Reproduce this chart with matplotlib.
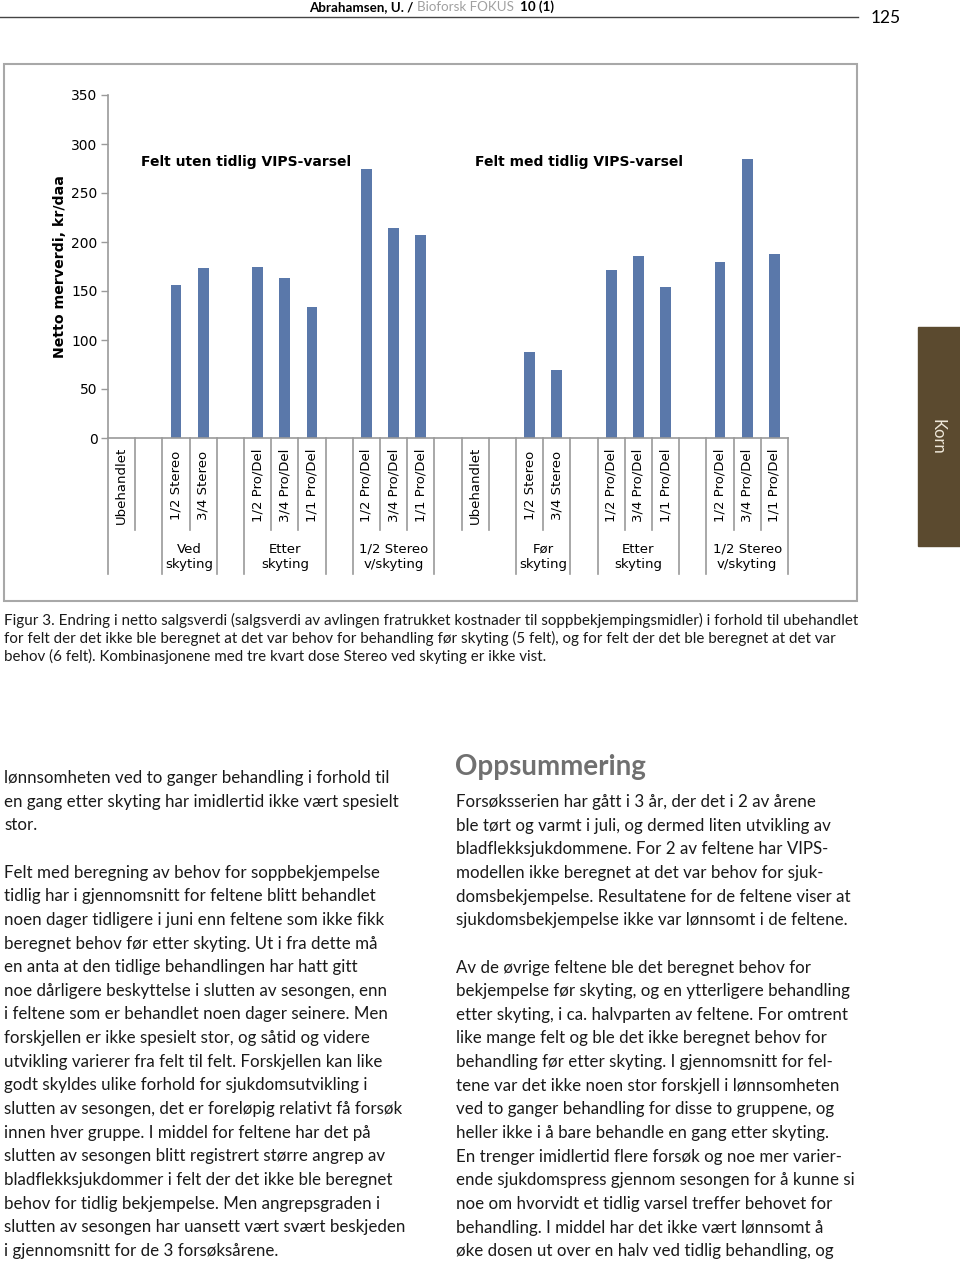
import numpy as np
import matplotlib
matplotlib.use("Agg")
import matplotlib.pyplot as plt
from matplotlib.patches import Rectangle
from matplotlib.transforms import blended_transform_factory

# --- data ---
categories = ['Ubehandlet', '', '1/2 Stereo', '3/4 Stereo', '', '1/2 Pro/Del', '3/4 Pro/Del', '1/1 Pro/Del', '',
              '1/2 Pro/Del', '3/4 Pro/Del', '1/1 Pro/Del', '', 'Ubehandlet', '', '1/2 Stereo', '3/4 Stereo', '',
              '1/2 Pro/Del', '3/4 Pro/Del', '1/1 Pro/Del', '', '1/2 Pro/Del', '3/4 Pro/Del', '1/1 Pro/Del']
values = [0, None, 156, 173, None, 174, 163, 134, None, 275, 214, 207, None,
          0, None, 88, 69, None, 171, 186, 154, None, 180, 285, 188]
group_names = ['', 'Ved\nskyting', '', 'Etter\nskyting', '', '1/2 Stereo\nv/skyting',
               '', 'Før\nskyting', '', 'Etter\nskyting', '', '1/2 Stereo\nv/skyting']
group_sizes = [2, 2, 1, 3, 1, 3, 3, 2, 1, 3, 1, 3]
panel_titles = ['Felt uten tidlig VIPS-varsel', 'Felt med tidlig VIPS-varsel']
y_ticks = [0, 50, 100, 150, 200, 250, 300, 350]

caption = [
    "Figur 3. Endring i netto salgsverdi (salgsverdi av avlingen fratrukket kostnader til soppbekjempingsmidler) i forhold til ubehandlet",
    "for felt der det ikke ble beregnet at det var behov for behandling før skyting (5 felt), og for felt der det ble beregnet at det var",
    "behov (6 felt). Kombinasjonene med tre kvart dose Stereo ved skyting er ikke vist.",
]
left_col = [
    "lønnsomheten ved to ganger behandling i forhold til",
    "en gang etter skyting har imidlertid ikke vært spesielt",
    "stor.",
    "",
    "Felt med beregning av behov for soppbekjempelse",
    "tidlig har i gjennomsnitt for feltene blitt behandlet",
    "noen dager tidligere i juni enn feltene som ikke fikk",
    "beregnet behov før etter skyting. Ut i fra dette må",
    "en anta at den tidlige behandlingen har hatt gitt",
    "noe dårligere beskyttelse i slutten av sesongen, enn",
    "i feltene som er behandlet noen dager seinere. Men",
    "forskjellen er ikke spesielt stor, og såtid og videre",
    "utvikling varierer fra felt til felt. Forskjellen kan like",
    "godt skyldes ulike forhold for sjukdomsutvikling i",
    "slutten av sesongen, det er foreløpig relativt få forsøk",
    "innen hver gruppe. I middel for feltene har det på",
    "slutten av sesongen blitt registrert større angrep av",
    "bladflekksjukdommer i felt der det ikke ble beregnet",
    "behov for tidlig bekjempelse. Men angrepsgraden i",
    "slutten av sesongen har uansett vært svært beskjeden",
    "i gjennomsnitt for de 3 forsøksårene.",
]
right_col = [
    "Forsøksserien har gått i 3 år, der det i 2 av årene",
    "ble tørt og varmt i juli, og dermed liten utvikling av",
    "bladflekksjukdommene. For 2 av feltene har VIPS-",
    "modellen ikke beregnet at det var behov for sjuk-",
    "domsbekjempelse. Resultatene for de feltene viser at",
    "sjukdomsbekjempelse ikke var lønnsomt i de feltene.",
    "",
    "Av de øvrige feltene ble det beregnet behov for",
    "bekjempelse før skyting, og en ytterligere behandling",
    "etter skyting, i ca. halvparten av feltene. For omtrent",
    "like mange felt og ble det ikke beregnet behov for",
    "behandling før etter skyting. I gjennomsnitt for fel-",
    "tene var det ikke noen stor forskjell i lønnsomheten",
    "ved to ganger behandling for disse to gruppene, og",
    "heller ikke i å bare behandle en gang etter skyting.",
    "En trenger imidlertid flere forsøk og noe mer varier-",
    "ende sjukdomspress gjennom sesongen for å kunne si",
    "noe om hvorvidt et tidlig varsel treffer behovet for",
    "behandling. I middel har det ikke vært lønnsomt å",
    "øke dosen ut over en halv ved tidlig behandling, og",
]
header_parts = [("Abrahamsen, U. / ", 'bold', 'black'),
                ("Bioforsk FOKUS  ", 'normal', '#a0a0a0'),
                ("10 (1)", 'bold', 'black')]

# --- page in pixels ---
W, H = 960, 1265
def fx(x):
    return x / W
def fy(y):
    return 1 - y / H

body = ['Lato', 'DejaVu Sans']
bar_color = '#5a78aa'
grey = '#9a9a9a'

fig = plt.figure(figsize=(W / 100, H / 100), dpi=100)
renderer = fig.canvas.get_renderer()

# header, pieces placed one after another
xpos = 309
for txt, wt, col in header_parts:
    t = fig.text(fx(xpos), fy(7), txt, family=body, fontsize=9.6, weight=wt, color=col, va='center')
    xpos += t.get_window_extent(renderer).width
fig.add_artist(plt.Line2D([0, fx(858)], [fy(17), fy(17)], color='#444444', lw=1))
fig.text(fx(871), fy(18), "125", family=body, fontsize=12.5, va='center')

# side tab
fig.add_artist(Rectangle((fx(918), fy(546)), fx(960) - fx(918), fy(327) - fy(546), color='#5b4a2f'))
fig.text(fx(938), fy(437), "Korn", rotation=-90, color='#efe8da', fontsize=12,
         family=body, ha='center', va='center')

# chart frame
fig.add_artist(Rectangle((fx(4), fy(601)), fx(857) - fx(4), fy(64) - fy(601),
                         fill=False, edgecolor='#a8a8a8', lw=1.5))

# chart
ax = fig.add_axes([fx(108), fy(438), fx(788) - fx(108), fy(95) - fy(438)])
x = np.arange(len(categories))
xb = [i for i, v in zip(x, values) if v is not None]
vb = [v for v in values if v is not None]
ax.bar(xb, vb, width=0.4, color=bar_color)
ax.set_xlim(-0.5, len(categories) - 0.5)
ax.set_ylim(0, 350)
ax.set_yticks(y_ticks)
ax.tick_params(axis='y', length=5, width=1, color=grey, labelsize=10, pad=2.5)
ax.set_xticks([])
for s in ['top', 'right']:
    ax.spines[s].set_visible(False)
for s in ['left', 'bottom']:
    ax.spines[s].set_color(grey)
    ax.spines[s].set_linewidth(1.2)

ax.text(0.71, 282, panel_titles[0], fontsize=10, weight='bold', va='center')
ax.text(13.0, 282, panel_titles[1], fontsize=10, weight='bold', va='center')

fig.text(fx(60), fy(267), "Netto merverdi, kr/daa", rotation=90, fontsize=10.2,
         weight='bold', ha='center', va='center')

# multi-level category axis
tr = blended_transform_factory(ax.transData, ax.transAxes)
short_y = (438 - 530) / 343
long_y = (438 - 574) / 343
edges = np.cumsum([0] + group_sizes) - 0.5
for b in np.arange(len(categories) + 1) - 0.5:
    yy = long_y if np.any(np.isclose(edges, b)) else short_y
    ax.plot([b, b], [0, yy], transform=tr, color=grey, lw=1.2, clip_on=False)
for i, c in enumerate(categories):
    if c:
        ax.text(i, (438 - 485) / 343, c, transform=tr, rotation=90, ha='center', va='center', fontsize=9.5)
for name, a, b in zip(group_names, edges[:-1], edges[1:]):
    if name:
        ax.text((a + b) / 2, (438 - 557) / 343, name, transform=tr, ha='center', va='center',
                fontsize=9.5, linespacing=1.25)

# caption
for k, line in enumerate(caption):
    fig.text(fx(4), fy(620 + 18 * k), line, family=body, fontsize=10.9, va='center', color='#1a1a1a')

# body columns
step = 23.65
for k, line in enumerate(left_col):
    fig.text(fx(4), fy(778 + step * k), line, family=body, fontsize=12.2, va='center', color='#1a1a1a')
fig.text(fx(455), fy(767), "Oppsummering", family=body, fontsize=20, weight='bold', va='center', color='#707070')
for k, line in enumerate(right_col):
    fig.text(fx(456), fy(802 + step * k), line, family=body, fontsize=12.2, va='center', color='#1a1a1a')

fig.savefig("out.png", dpi=100)
